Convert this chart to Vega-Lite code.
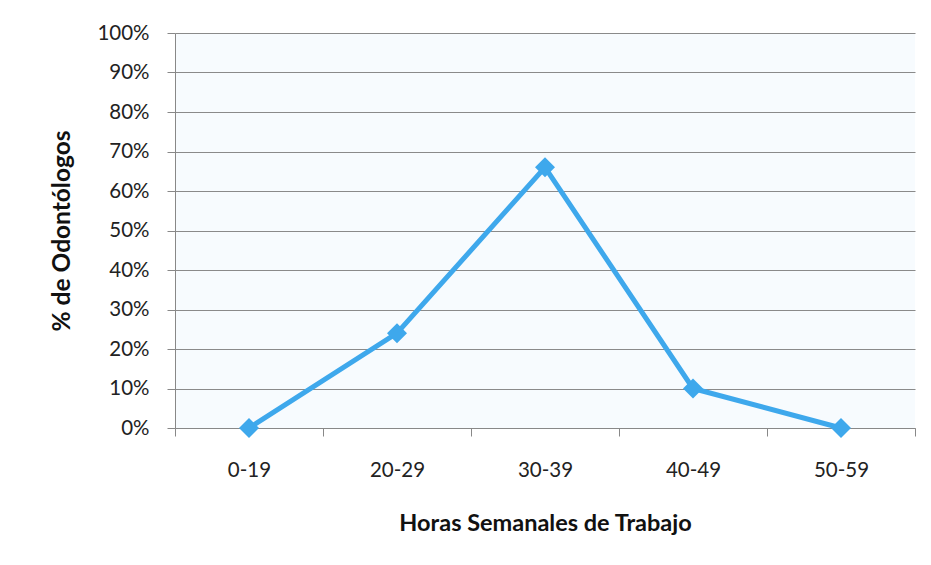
{
  "$schema": "https://vega.github.io/schema/vega-lite/v6.json",
  "autosize": "none",
  "width": 740,
  "height": 395,
  "padding": {"left": 175, "top": 33, "right": 16, "bottom": 137},
  "background": "white",
  "data": {"values": [
    {"horas": "0-19", "pct": 0},
    {"horas": "20-29", "pct": 0.24},
    {"horas": "30-39", "pct": 0.66},
    {"horas": "40-49", "pct": 0.10},
    {"horas": "50-59", "pct": 0}
  ]},
  "encoding": {
    "x": {
      "field": "horas", "type": "ordinal", "sort": null,
      "scale": {"paddingInner": 0, "paddingOuter": 0},
      "axis": {
        "title": "Horas Semanales de Trabajo",
        "labelAngle": 0,
        "labelFont": "Lato", "labelFontSize": 20.5, "labelColor": "#222",
        "labelPadding": 24,
        "titleFont": "Lato", "titleFontSize": 23.5, "titleFontWeight": "bold", "titleColor": "#111",
        "titlePadding": 31,
        "domainColor": "#888", "tickColor": "#888", "tickSize": 8,
        "tickBand": "extent", "grid": false
      }
    },
    "y": {
      "field": "pct", "type": "quantitative",
      "scale": {"domain": [0, 1], "nice": false},
      "axis": {
        "title": "% de Odontólogos",
        "format": ".0%",
        "values": [0, 0.1, 0.2, 0.3, 0.4, 0.5, 0.6, 0.7, 0.8, 0.9, 1],
        "labelFont": "Lato", "labelFontSize": 20.5, "labelColor": "#222",
        "labelPadding": 18,
        "titleFont": "Lato", "titleFontSize": 24.5, "titleFontWeight": "bold", "titleColor": "#111",
        "titlePadding": 22,
        "domainColor": "#888", "tickColor": "#888", "tickSize": 8,
        "grid": true, "gridColor": "#8a8a8a", "gridWidth": 1.2
      }
    }
  },
  "layer": [
    {"mark": {"type": "line", "color": "#3EA8EC", "strokeWidth": 5}},
    {"mark": {"type": "point", "shape": "diamond", "filled": true, "color": "#3EA8EC", "size": 400, "opacity": 1}}
  ],
  "config": {
    "view": {"stroke": null, "fill": "#f7fbfe"}
  }
}
